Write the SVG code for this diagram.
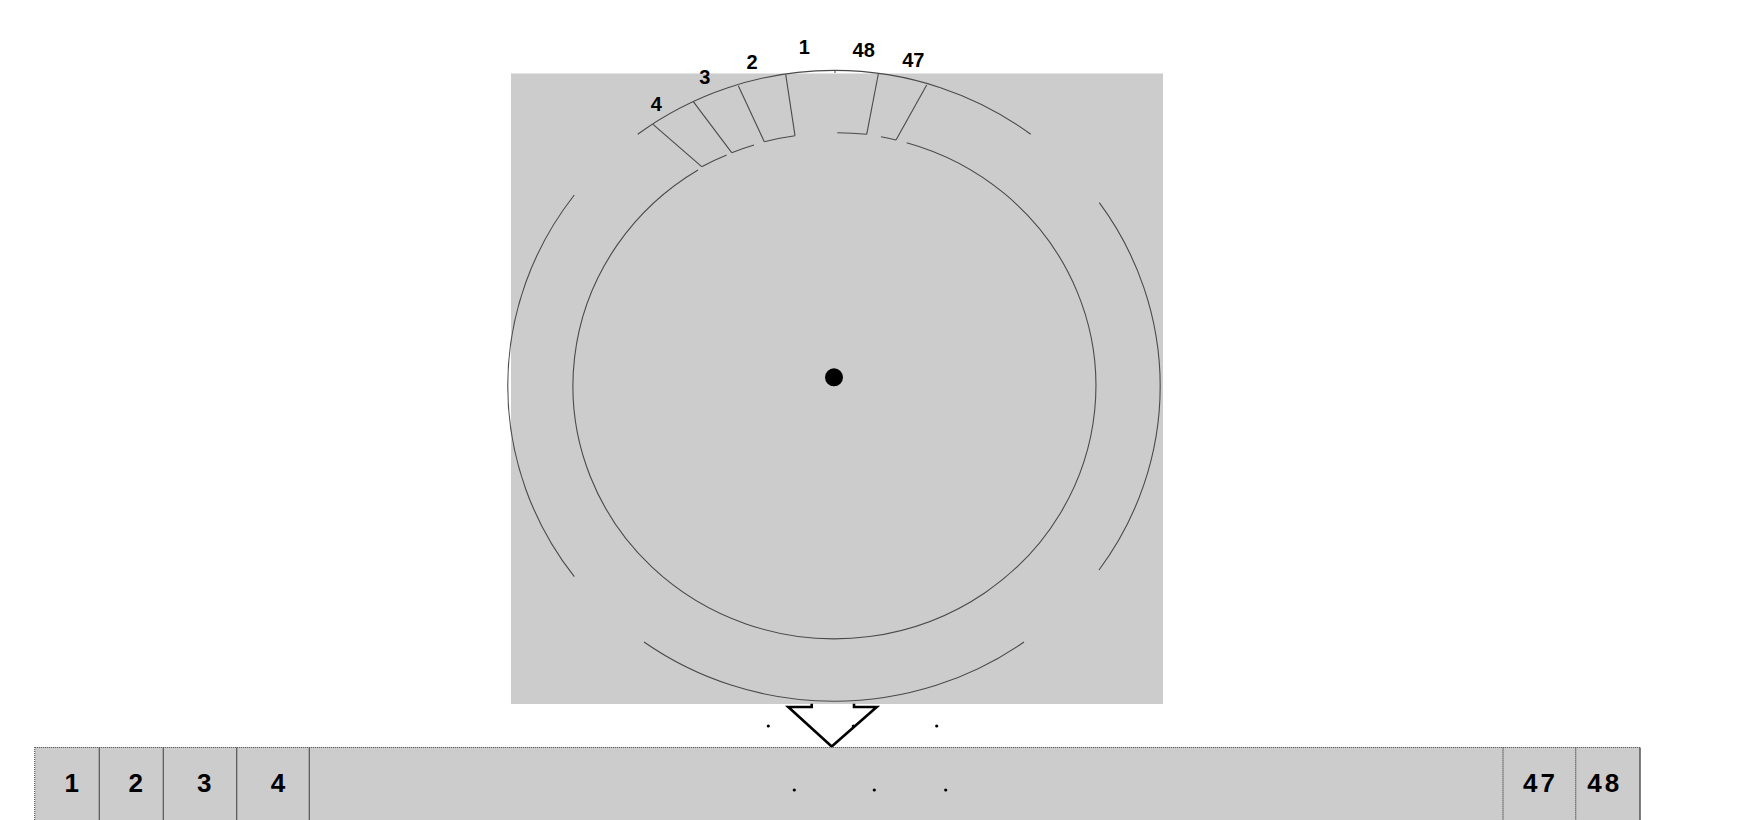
<svg xmlns="http://www.w3.org/2000/svg" width="1747" height="820" viewBox="0 0 1747 820">
<style>
.bg{fill:#cccccc}
.ln{fill:none;stroke:#4a4a4a;stroke-width:1.1}
.lbl{font-family:"Liberation Sans",Arial,sans-serif;font-weight:bold;font-size:20px;fill:#000;text-anchor:middle}
.cell{font-family:"Liberation Sans",Arial,sans-serif;font-weight:bold;font-size:26px;fill:#000;text-anchor:middle}
.div{stroke:#555;stroke-width:1.2}
.dot{fill:#000}
</style>
<rect width="1747" height="820" fill="#ffffff"/>
<g id="disk">
  <rect class="bg" x="511" y="73.5" width="652" height="630.5"/>
  <g id="outer-ring">
    <path class="ln" d="M637.7,134.3 A325.5,315 0 0 1 1030.7,134.3"/>
    <path class="ln" d="M574.3,195 A325.5,315 0 0 0 574.3,576.7"/>
    <path class="ln" d="M1099.3,202.7 A325.5,315 0 0 1 1099,570"/>
    <path class="ln" d="M644,642 A325.5,315 0 0 0 1024,642"/>
    <line class="ln" x1="835" y1="70" x2="835" y2="73"/>
  </g>
  <g id="inner-ring">
    <path class="ln" d="M906.7,142.7 A261.5,253 0 1 1 698,170"/>
    <path class="ln" d="M701.7,166.7 A261.5,253 0 0 1 726.7,155"/>
    <path class="ln" d="M731.7,152.7 A261.5,253 0 0 1 754,145"/>
    <path class="ln" d="M764.3,141.7 A261.5,253 0 0 1 795,135.7"/>
    <path class="ln" d="M837.3,132.7 A261.5,253 0 0 1 866.7,134.3"/>
    <path class="ln" d="M881,136.7 A261.5,253 0 0 1 896,140"/>
  </g>
  <g id="sectors">
    <line class="ln" x1="653" y1="124.3" x2="701.7" y2="166.7"/>
    <line class="ln" x1="693.3" y1="101.7" x2="731.7" y2="152.7"/>
    <line class="ln" x1="738.3" y1="85.7" x2="764.3" y2="141.7"/>
    <line class="ln" x1="785.7" y1="74.3" x2="795" y2="135.7"/>
    <line class="ln" x1="878.3" y1="74" x2="866.7" y2="134.3"/>
    <line class="ln" x1="926.7" y1="85" x2="896" y2="140"/>
  </g>
  <circle id="spindle" class="dot" cx="834" cy="377.3" r="9"/>
</g>
<g id="sector-labels">
  <text class="lbl" x="656.3" y="110.7">4</text>
  <text class="lbl" x="704.7" y="84">3</text>
  <text class="lbl" x="752" y="69">2</text>
  <text class="lbl" x="804.3" y="54">1</text>
  <text class="lbl" x="863.7" y="57.3">48</text>
  <text class="lbl" x="913.3" y="67.3">47</text>
</g>
<g id="connectors">
  <path d="M811.7,703.7 V707 H788.3 L831.7,746.5 L876.7,707 H854 V703.7" fill="none" stroke="#000" stroke-width="2.6" stroke-linejoin="miter"/>
  <circle class="dot" cx="768.3" cy="726" r="1.6"/>
  <circle class="dot" cx="853.3" cy="726" r="1.6"/>
  <circle class="dot" cx="936.7" cy="726" r="1.6"/>
</g>
<g id="track">
  <rect class="bg" x="34.7" y="747.5" width="1605.3" height="80" stroke="#555" stroke-width="1.2" stroke-dasharray="1.2 0.8"/>
  <line class="div" x1="99.3" y1="747.5" x2="99.3" y2="820"/>
  <line class="div" x1="163.3" y1="747.5" x2="163.3" y2="820"/>
  <line class="div" x1="236.7" y1="747.5" x2="236.7" y2="820"/>
  <line class="div" x1="309.3" y1="747.5" x2="309.3" y2="820"/>
  <line class="div" x1="1503" y1="747.5" x2="1503" y2="820" stroke-dasharray="1.2 0.8"/>
  <line class="div" x1="1575.7" y1="747.5" x2="1575.7" y2="820" stroke-dasharray="1.2 0.8"/>
  <line class="div" x1="1640" y1="747.5" x2="1640" y2="820"/>
  <text class="cell" x="71.7" y="791.7">1</text>
  <text class="cell" x="135.8" y="791.7">2</text>
  <text class="cell" x="204.3" y="791.7">3</text>
  <text class="cell" x="278" y="791.7">4</text>
  <text class="cell" x="1540.5" y="792" letter-spacing="3">47</text>
  <text class="cell" x="1604.8" y="792" letter-spacing="3">48</text>
  <circle class="dot" cx="794.3" cy="790" r="1.6"/>
  <circle class="dot" cx="874.3" cy="790" r="1.6"/>
  <circle class="dot" cx="945.7" cy="790" r="1.6"/>
</g>
</svg>
